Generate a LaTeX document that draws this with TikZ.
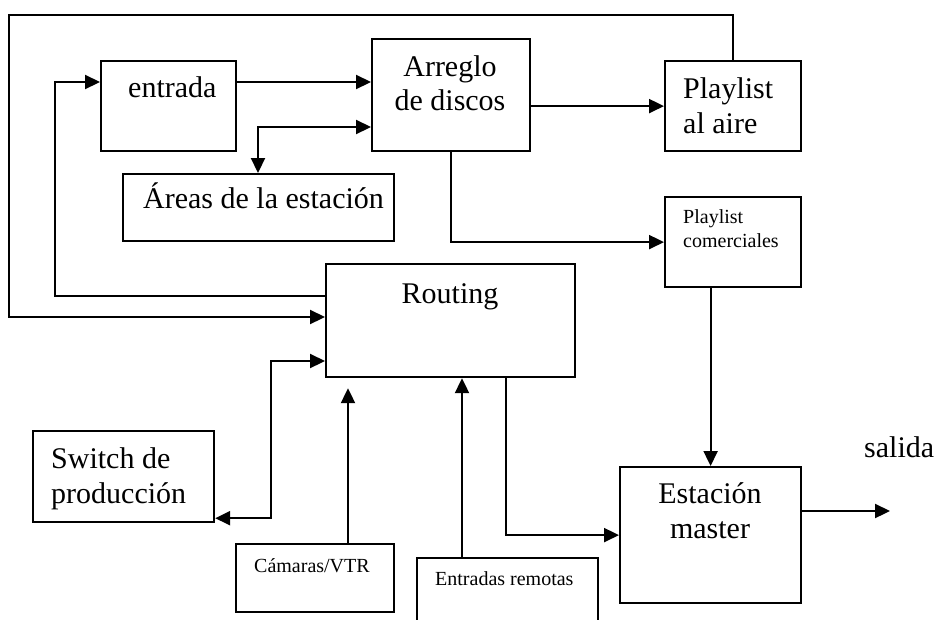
\documentclass[tikz,border=0pt]{standalone}
\usepackage{fontspec}
\setmainfont{Liberation Serif}
\usetikzlibrary{arrows.meta}
\tikzset{
  box/.style={draw, line width=2.2pt, rectangle, inner sep=0pt, anchor=north west},
  big/.style={font=\fontsize{30}{34}\selectfont, inner sep=0pt},
  small/.style={font=\fontsize{20}{23}\selectfont, inner sep=0pt},
  conn/.style={line width=2.2pt},
  arr/.style={conn, -{Triangle[length=15pt,width=14pt]}},
  arrboth/.style={conn, {Triangle[length=15pt,width=14pt]}-{Triangle[length=15pt,width=14pt]}}
}
\begin{document}
\begin{tikzpicture}[x=1pt,y=-1pt]
\clip (0,0) rectangle (936,619);
\fill[white] (0,0) rectangle (936,619);
% boxes
\node[box, minimum width=135pt, minimum height=90pt] (entrada) at (100,60) {};
\node[box, minimum width=158pt, minimum height=112pt] (arreglo) at (371,38) {};
\node[box, minimum width=271pt, minimum height=67pt] (areas) at (122,173) {};
\node[box, minimum width=136pt, minimum height=90pt] (aire) at (664,60) {};
\node[box, minimum width=136pt, minimum height=90pt] (comer) at (664,196) {};
\node[box, minimum width=249pt, minimum height=113pt] (routing) at (325,263) {};
\node[box, minimum width=181pt, minimum height=91pt] (switch) at (32,430) {};
\node[box, minimum width=158pt, minimum height=68pt] (camaras) at (235,543) {};
\node[box, minimum width=181pt, minimum height=90pt] (remotas) at (416,557) {};
\node[box, minimum width=181pt, minimum height=136pt] (estacion) at (619,466) {};
% texts
\node[big, anchor=base west] (t1) at (128,97) {entrada};
\node[big, anchor=base] (t2) at (450,76) {Arreglo};
\node[big, anchor=base] (t3) at (450,110) {de discos};
\node[big, anchor=base west] (t4) at (143,208) {Áreas de la estación};
\node[big, anchor=base west] (t5) at (683,98) {Playlist};
\node[big, anchor=base west] (t6) at (683,133) {al aire};
\node[small, anchor=base west] (t7) at (683,223) {Playlist};
\node[small, anchor=base west] (t8) at (683,247) {comerciales};
\node[big, anchor=base] (t9) at (450,303) {Routing};
\node[big, anchor=base west] (t10) at (51,468) {Switch de};
\node[big, anchor=base west] (t11) at (51,503) {producción};
\node[small, anchor=base west] (t12) at (254,572) {Cámaras/VTR};
\node[small, anchor=base west] (t13) at (435,585) {Entradas remotas};
\node[big, anchor=base] (t14) at (710,503) {Estación};
\node[big, anchor=base] (t15) at (710,538) {master};
\node[big, anchor=base west] (t16) at (864,457) {salida};
% helper coordinates
\coordinate (e1) at ([yshift=-22pt]entrada.north east);
\coordinate (e2) at ([yshift=-22pt]entrada.north west);
\coordinate (e2l) at ([xshift=-45pt]e2);
\coordinate (a1) at ([yshift=-89pt]arreglo.north west);
\coordinate (a2) at ([xshift=136pt]areas.north west);
\coordinate (tl) at (9,15);
\coordinate (r1) at ([yshift=-54pt]routing.north west);
\coordinate (r2) at ([yshift=-33pt]routing.north west);
\coordinate (r3) at ([yshift=-98pt]routing.north west);
\coordinate (r4) at ([xshift=181pt]routing.south west);
\coordinate (s1) at ([yshift=5pt]switch.south east);
\coordinate (c1) at ([xshift=113pt]camaras.north west);
\coordinate (m1) at ([xshift=46pt]remotas.north west);
\coordinate (es1) at ([yshift=-45pt]estacion.north east);
\coordinate (out) at (890,511);
% connectors
\draw[arr] (e1) -- (e1 -| arreglo.west);
\draw[arrboth] (a2) |- (a1);
\draw[arr] (aire.west -| arreglo.east) -- (aire.west);
\draw[arr] (aire.north) |- (tl) |- (r1);
\draw[arr] (r2) -| (e2l) -- (e2);
\draw[arr] (arreglo.south) |- (comer.west);
\draw[arr] (comer.south -| estacion.north) -- (estacion.north);
\draw[arrboth] (s1) -- ++(56pt,0) |- (r3);
\draw[arr, shorten >=10pt] (c1) -- (c1 |- routing.south);
\draw[arr] (m1) -- (m1 |- routing.south);
\draw[arr] (r4) |- (estacion.west);
\draw[arr] (es1) -- (out);
\end{tikzpicture}
\end{document}
